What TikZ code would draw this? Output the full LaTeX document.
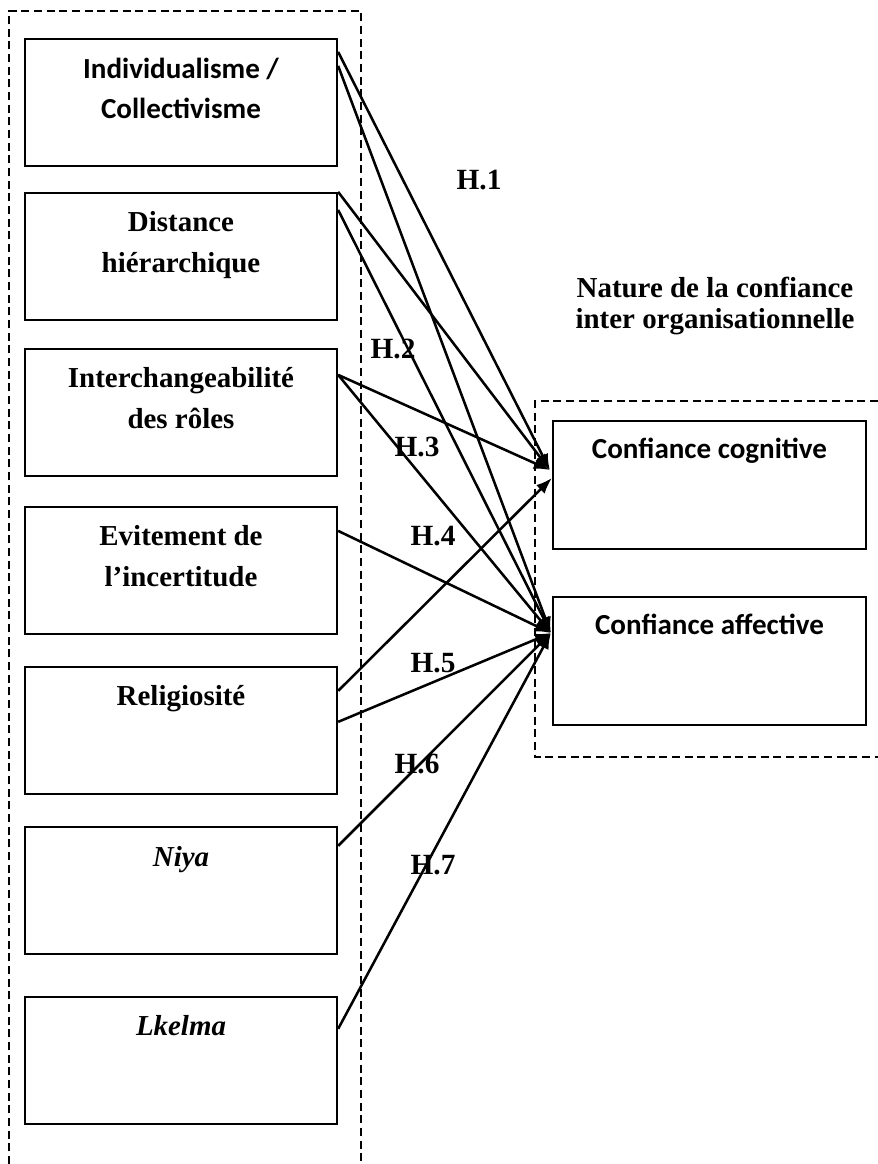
\documentclass[tikz,border=0pt]{standalone}
\usepackage{fontspec}
\setmainfont{Liberation Serif}
\newfontfamily\calib{Carlito}
\usetikzlibrary{arrows.meta,calc}
\begin{document}
\begin{tikzpicture}[x=0.75pt,y=-0.75pt,
  box/.style={draw, line width=1.7pt, minimum width=234pt, minimum height=95.25pt, inner sep=0pt},
  txt/.style={font=\fontsize{21.7}{30.75}\selectfont\bfseries, align=center, anchor=base, inner sep=0pt},
  ctxt/.style={font=\calib\fontsize{21.8}{30}\selectfont\bfseries, align=center, anchor=base, inner sep=0pt},
  hlab/.style={font=\fontsize{22}{24}\selectfont\bfseries, inner sep=0pt},
  dbox/.style={dash pattern=on 6pt off 3.5pt, line width=1.2pt},
  arr/.style={line width=1.9pt, -{Latex[length=12pt,width=9pt]}}
]
\useasboundingbox (0,0) rectangle (878,1164);

% group frames
\draw[dbox] (9,1164) -- (9,11) -- (361,11) -- (361,1164);
\draw[dbox] (878,401) -- (535,401) -- (535,757) -- (878,757);

% left boxes
\node[box] (b1) at (181,102.5) {};
\node[box] (b2) at (181,256.5) {};
\node[box] (b3) at (181,412.5) {};
\node[box] (b4) at (181,570.5) {};
\node[box] (b5) at (181,730.5) {};
\node[box] (b6) at (181,890.5) {};
\node[box] (b7) at (181,1060.5) {};

\node[ctxt] (t1) at (181,118) {Individualisme /\\Collectivisme};
\node[txt] (t2) at (181,272) {Distance\\hiérarchique};
\node[txt] (t3) at (181,428) {Interchangeabilité\\des rôles};
\node[txt] (t4) at (181,586) {Evitement de\\l’incertitude};
\node[txt] (t5) at (181,705) {Religiosité};
\node[txt, font=\fontsize{21.7}{30.75}\selectfont\bfseries\itshape] (t6) at (181,866) {Niya};
\node[txt, font=\fontsize{21.7}{30.75}\selectfont\bfseries\itshape] (t7) at (181,1035) {Lkelma};

% right boxes
\node[box, minimum width=234.75pt, minimum height=96pt] (cog) at (709.5,485) {};
\node[box, minimum width=234.75pt, minimum height=96pt] (aff) at (709.5,661) {};
\node[ctxt] (tc) at (709.5,458) {Confiance cognitive};
\node[ctxt] (ta) at (709.5,634) {Confiance affective};

\node[txt, font=\fontsize{21.7}{23.25}\selectfont\bfseries] (nat) at (715,328) {Nature de la confiance\\inter organisationnelle};

% arrow targets
\coordinate (cg1) at ($(cog.west)+(-2,-15)$);
\coordinate (cg2) at ($(cog.west)+(0,-7)$);
\coordinate (af) at ($(aff.west)+(-1,-28)$);

% arrows
\draw[arr] ($(b1.north east)+(0,14)$) -- (cg1);
\draw[arr] ($(b1.north east)+(0,28)$) -- (af);
\draw[arr] ($(b2.north east)+(0,0)$) -- (cg1);
\draw[arr] ($(b2.north east)+(0,18)$) -- (af);
\draw[arr] ($(b3.north east)+(0,27)$) -- (cg1);
\draw[arr] ($(b3.north east)+(0,27)$) -- (af);
\draw[arr] ($(b4.north east)+(0,25)$) -- (af);
\draw[arr] ($(b5.north east)+(0,25)$) -- (cg2);
\draw[arr] ($(b5.north east)+(0,56)$) -- (af);
\draw[arr] ($(b6.north east)+(0,20)$) -- (af);
\draw[arr] ($(b7.north east)+(0,33)$) -- (af);

% hypothesis labels
\node[hlab] (h1) at (479,180) {H.1};
\node[hlab] (h2) at (393,349) {H.2};
\node[hlab] (h3) at (417,447) {H.3};
\node[hlab] (h4) at (433,536) {H.4};
\node[hlab] (h5) at (433,663) {H.5};
\node[hlab] (h6) at (417,764) {H.6};
\node[hlab] (h7) at (433,865) {H.7};
\end{tikzpicture}
\end{document}
